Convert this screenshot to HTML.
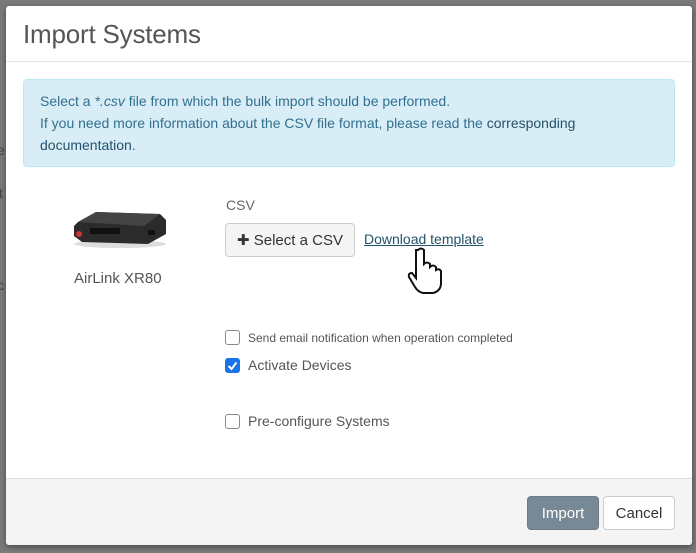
<!DOCTYPE html>
<html><head><meta charset="utf-8"><style>
*{box-sizing:border-box;margin:0;padding:0}
body{width:696px;height:553px;background:#7a7a7a;position:relative;overflow:hidden;font-family:"Liberation Sans",sans-serif}
.bg{position:absolute;color:#3a4550;font-size:14px}
.modal{position:absolute;left:6px;top:6px;width:686px;height:539px;background:#fff;border-radius:3px;overflow:hidden;box-shadow:0 2px 6px rgba(0,0,0,.4)}
.hdr{height:56px;border-bottom:1px solid #e5e5e5;padding:13px 0 0 17px;font-size:26px;color:#555;font-weight:normal;letter-spacing:-.2px}
.alert{position:absolute;left:17px;top:73px;width:652px;height:88px;background:#d9edf7;border:1px solid #bce8f1;border-radius:4px;color:#31708f;font-size:14px;line-height:22px;padding:10px 16px}
.alert a{color:#245269}
.foot{position:absolute;left:0;top:472px;width:686px;height:67px;background:#f4f4f4;border-top:1px solid #ddd}
.btn{position:absolute;height:34px;border-radius:4px;font-size:15px;line-height:33px;text-align:center}
.cb{position:absolute;width:15px;height:15px;border:1px solid #888;border-radius:3px;background:#fff}
.lbl{position:absolute;color:#555;font-size:14px}
</style></head><body>
<div class="bg" style="left:-3px;top:142px">e</div>
<div class="bg" style="left:-1px;top:185px">t</div>
<div class="bg" style="left:-3px;top:277px">c</div>
<div class="modal">
<div class="hdr">Import Systems</div>
<div class="alert">Select a <i>*.csv</i> file from which the bulk import should be performed.<br>If you need more information about the CSV file format, please read the <a>corresponding documentation</a>.</div>
<svg style="position:absolute;left:62px;top:202px" width="100" height="42" viewBox="0 0 100 42">
<ellipse cx="52" cy="36" rx="46" ry="4" fill="#ddd"/>
<polygon points="10,14 28,4 92,6 98,12 98,26 80,36 14,34 6,28 6,18" fill="#2b2b2b"/>
<polygon points="10,14 28,4 92,6 76,18" fill="#444"/>
<rect x="22" y="20" width="30" height="6" fill="#111"/>
<circle cx="11" cy="26" r="3" fill="#c33"/>
<rect x="80" y="22" width="7" height="5" fill="#111"/>
</svg>
<div class="lbl" style="left:68px;top:264px;font-size:15px">AirLink XR80</div>
<div class="lbl" style="left:220px;top:191px;font-size:14px;color:#666">CSV</div>
<div class="btn" style="left:219px;top:217px;width:130px;background:#f4f4f4;border:1px solid #ccc;color:#333">✚ Select a CSV</div>
<div class="lbl" style="left:358px;top:225px;color:#245269;text-decoration:underline;font-size:14px">Download template</div>
<svg style="position:absolute;left:400px;top:240px" width="42" height="50" viewBox="0 0 42 50">
<path d="M12 4 q3-3 6 0 v14 q3-3 6 0 v3 q3-3 6 0 v3 q3-2 5 1 v12 q0 8-8 10 h-10 q-5-1-8-6 l-6-10 q-1-4 3-4 l4 5 v-28z" fill="#fff" stroke="#111" stroke-width="2"/>
</svg>
<div class="cb" style="left:219px;top:324px"></div>
<div class="lbl" style="left:242px;top:325px;font-size:12px">Send email notification when operation completed</div>
<div class="cb" style="left:219px;top:352px;background:#1a73e8;border-color:#1a73e8"><svg width="13" height="13" viewBox="0 0 13 13" style="position:absolute;left:0;top:0"><path d="M2.5 7 l3 3 l5-6.5" stroke="#fff" stroke-width="2" fill="none"/></svg></div>
<div class="lbl" style="left:242px;top:351px">Activate Devices</div>
<div class="cb" style="left:219px;top:408px"></div>
<div class="lbl" style="left:242px;top:407px">Pre-configure Systems</div>
<div class="foot">
<div class="btn" style="left:521px;top:17px;width:72px;background:#778896;color:#fff;border:1px solid #6b7b88">Import</div>
<div class="btn" style="left:597px;top:17px;width:72px;background:#fff;border:1px solid #ccc;color:#333">Cancel</div>
</div>
</div>
</body></html>
